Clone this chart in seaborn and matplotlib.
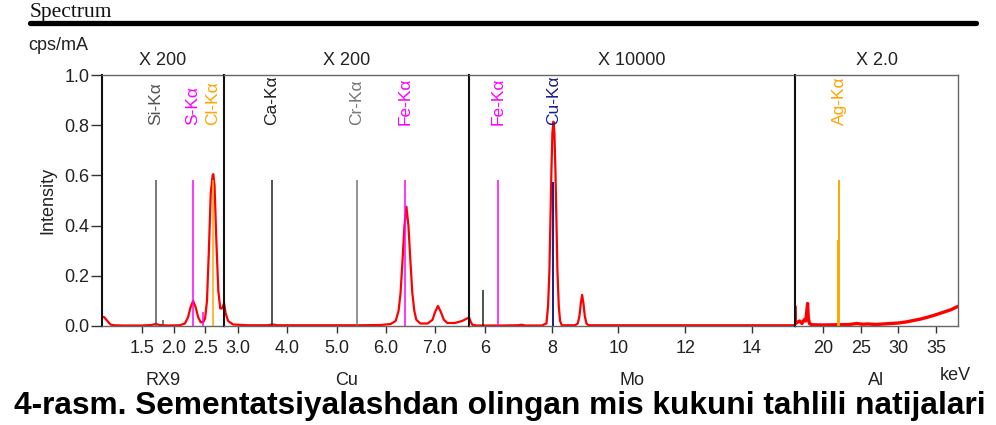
import matplotlib
matplotlib.use("Agg")
import matplotlib.pyplot as plt
import seaborn as sns
import pandas as pd

sns.set_theme(style="white")
plt.rcParams['font.family'] = ['Liberation Sans', 'DejaVu Sans']

# ---------------- data ----------------
# panel 1 : RX9, x 200
p1_kev = [0.86, 0.90, 0.95, 1.00, 1.05, 1.20, 1.50, 1.65, 1.72, 1.78, 1.90, 2.10, 2.18, 2.23,
          2.27, 2.31, 2.35, 2.39, 2.43, 2.47, 2.50, 2.53, 2.56, 2.59, 2.62, 2.63, 2.65, 2.68,
          2.71, 2.74, 2.77, 2.80]
p1_int = [0.037, 0.035, 0.020, 0.006, 0.003, 0.002, 0.002, 0.004, 0.008, 0.004, 0.002, 0.003,
          0.010, 0.035, 0.075, 0.100, 0.075, 0.035, 0.015, 0.015, 0.030, 0.100, 0.300, 0.530,
          0.600, 0.605, 0.560, 0.330, 0.140, 0.070, 0.070, 0.090]
# panel 2 : Cu, x 200
p2_kev = [2.71, 2.75, 2.80, 2.90, 3.20, 3.60, 3.70, 3.80, 4.50, 5.00, 5.50, 5.90, 6.10, 6.20,
          6.26, 6.30, 6.34, 6.38, 6.42, 6.46, 6.50, 6.54, 6.58, 6.62, 6.70, 6.85, 6.95, 7.00,
          7.06, 7.12, 7.18, 7.25, 7.40, 7.55, 7.70]
p2_int = [0.100, 0.050, 0.020, 0.006, 0.003, 0.003, 0.006, 0.003, 0.003, 0.003, 0.003, 0.004,
          0.008, 0.020, 0.060, 0.130, 0.260, 0.400, 0.475, 0.400, 0.260, 0.130, 0.060, 0.025,
          0.010, 0.010, 0.025, 0.055, 0.080, 0.055, 0.025, 0.012, 0.012, 0.020, 0.035]
# panel 3 : Mo, x 10000
p3_kev = [5.52, 5.56, 5.62, 5.75, 6.50, 7.00, 7.10, 7.20, 7.70, 7.84, 7.89, 7.93, 7.96, 7.99,
          8.02, 8.05, 8.08, 8.11, 8.14, 8.17, 8.21, 8.25, 8.30, 8.70, 8.78, 8.83, 8.87, 8.91,
          8.95, 8.99, 9.04, 9.10, 15.30]
p3_int = [0.035, 0.020, 0.005, 0.002, 0.002, 0.003, 0.005, 0.002, 0.002, 0.010, 0.080, 0.220,
          0.420, 0.620, 0.770, 0.814, 0.770, 0.620, 0.420, 0.220, 0.080, 0.020, 0.003, 0.003,
          0.010, 0.040, 0.090, 0.124, 0.090, 0.040, 0.010, 0.003, 0.003]
# panel 4 : Al, x 2.0
p4_kev = [16.30, 16.33, 16.60, 16.90, 17.20, 17.50, 17.70, 17.85, 17.95, 18.05, 18.20, 18.50,
          20.00, 22.00, 23.50, 24.50, 25.20, 26.00, 27.00, 28.00, 29.00, 30.00, 31.00, 32.00,
          33.00, 34.00, 35.00, 36.00, 37.00, 37.90]
p4_int = [0.077, 0.010, 0.015, 0.020, 0.010, 0.025, 0.020, 0.060, 0.090, 0.030, 0.010, 0.005,
          0.004, 0.005, 0.006, 0.010, 0.007, 0.008, 0.006, 0.008, 0.010, 0.012, 0.016, 0.022,
          0.028, 0.036, 0.045, 0.055, 0.065, 0.078]

# element marker lines: energy, height, colour, label
p1_lines_kev = [1.72, 2.31, 2.62, 1.83, 2.46]
p1_lines_h = [0.58, 0.58, 0.58, 0.024, 0.057]
p1_lines_c = ['#555555', '#ff00ff', '#ffa500', '#555555', '#ff00ff']
p1_lines_lab = ['Si-Kα', 'S-Kα', 'Cl-Kα', '', '']
p2_lines_kev = [3.69, 5.41, 6.40]
p2_lines_h = [0.58, 0.58, 0.58]
p2_lines_c = ['#222222', '#777777', '#ff00ff']
p2_lines_lab = ['Ca-Kα', 'Cr-Kα', 'Fe-Kα']
p3_lines_kev = [5.95, 6.40, 8.05]
p3_lines_h = [0.143, 0.58, 0.575]
p3_lines_c = ['#222222', '#ff00ff', '#1c1c8c']
p3_lines_lab = ['', 'Fe-Kα', 'Cu-Kα']
p4_lines_kev = [21.99, 22.16]
p4_lines_h = [0.343, 0.58]
p4_lines_c = ['#ffa500', '#ffa500']
p4_lines_lab = ['', 'Ag-Kα']

titles = ['X 200', 'X 200', 'X 10000', 'X 2.0']
targets = ['RX9', 'Cu', 'Mo', 'Al']
xticks = [[1.5, 2.0, 2.5], [3.0, 4.0, 5.0, 6.0, 7.0], [6, 8, 10, 12, 14], [20, 25, 30, 35]]
xticklabels = [['1.5', '2.0', '2.5'], ['3.0', '4.0', '5.0', '6.0', '7.0'],
               ['6', '8', '10', '12', '14'], ['20', '25', '30', '35']]
yticks = [0.0, 0.2, 0.4, 0.6, 0.8, 1.0]
yticklabels = ['0.0', '0.2', '0.4', '0.6', '0.8', '1.0']

# ---------------- layout ----------------
W, H = 996, 425
FS = 13
fig = plt.figure(figsize=(W / 100, H / 100), dpi=100)
fig.patch.set_facecolor('white')

px = [(102, 224), (224, 469), (469, 795), (795, 958)]
xlims = [(0.865, 2.80), (2.716, 7.69), (5.52, 15.29), (16.28, 37.92)]
top_px, bot_px = 75, 326

spectra = [(p1_kev, p1_int), (p2_kev, p2_int), (p3_kev, p3_int), (p4_kev, p4_int)]
markers = [(p1_lines_kev, p1_lines_h, p1_lines_c, p1_lines_lab),
           (p2_lines_kev, p2_lines_h, p2_lines_c, p2_lines_lab),
           (p3_lines_kev, p3_lines_h, p3_lines_c, p3_lines_lab),
           (p4_lines_kev, p4_lines_h, p4_lines_c, p4_lines_lab)]
lws = [1.6, 1.6, 1.6, 2.4]

for i in range(4):
    x0, x1 = px[i]
    ax = fig.add_axes([x0 / W, (H - bot_px) / H, (x1 - x0) / W, (bot_px - top_px) / H])
    ax.set_facecolor('white')
    kev, inten = spectra[i]
    mk, mh, mc, ml = markers[i]
    for k, h, c, lab in zip(mk, mh, mc, ml):
        ax.vlines(k, 0, h, colors=c, lw=1.1 if i != 3 else 1.4, zorder=2)
    df = pd.DataFrame({'keV': kev, 'Intensity': inten})
    sns.lineplot(data=df, x='keV', y='Intensity', ax=ax, color='#ff0000', lw=lws[i],
                 sort=False, estimator=None, zorder=1)
    # marker of Cu drawn over the peak
    for k, h, c, lab in zip(mk, mh, mc, ml):
        if lab == 'Cu-Kα':
            ax.vlines(k, 0, h, colors=c, lw=1.3, zorder=3)
    for k, h, c, lab in zip(mk, mh, mc, ml):
        if lab:
            ax.text(k, 0.80, lab, rotation=90, ha='center', va='bottom', color=c,
                    fontsize=12.5, clip_on=True)
    ax.set_xlim(*xlims[i])
    ax.set_ylim(0, 1)
    ax.set_xticks(xticks[i])
    ax.set_xticklabels(xticklabels[i], fontsize=FS, color='#222222')
    ax.tick_params(axis='x', direction='out', length=5, width=1, color='#333333', pad=5,
                   bottom=True)
    if i == 0:
        ax.set_yticks(yticks)
        ax.set_yticklabels(yticklabels, fontsize=FS, color='#222222')
        ax.tick_params(axis='y', direction='out', length=8, width=1, color='#333333', pad=1,
                       left=True)
        ax.set_ylabel('Intensity', fontsize=FS, color='#222222', labelpad=6)
    else:
        ax.set_yticks([])
        ax.set_ylabel('')
    ax.set_xlabel(targets[i], fontsize=FS, color='#222222', labelpad=11)
    ax.set_title(titles[i], fontsize=FS, color='#222222', pad=7)
    for s in ['top', 'right', 'bottom']:
        ax.spines[s].set_color('#666666')
        ax.spines[s].set_linewidth(1.0)
    ax.spines['left'].set_color('#111111')
    ax.spines['left'].set_linewidth(1.5)

# header and annotations
fig.text(30 / W, 1 - 12 / H, 'Spectrum', family=['Liberation Serif'], fontsize=15.5,
         ha='left', va='center', color='#111111')
fig.add_artist(plt.Line2D([30 / W, 976 / W], [1 - 23 / H, 1 - 23 / H], color='black', lw=3.8))
fig.text(28 / W, 1 - 46 / H, 'cps/mA', fontsize=FS, ha='left', va='center', color='#222222')
fig.text(955 / W, 1 - 376 / H, 'keV', fontsize=FS, ha='center', va='center', color='#222222')
fig.text(500 / W, 1 - 406 / H, '4-rasm. Sementatsiyalashdan olingan mis kukuni tahlili natijalari',
         fontsize=22.8, fontweight='bold', ha='center', va='center', color='black')

fig.savefig('out.png', dpi=100, facecolor='white')
